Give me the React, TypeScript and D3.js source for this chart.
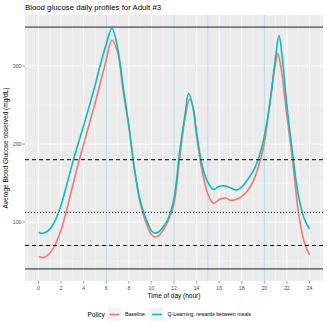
import React from "react";
import * as d3 from "d3";

const baselineHours = [0, 0.4, 1, 1.5, 2, 2.5, 3, 3.5, 4, 4.5, 5, 5.5, 6, 6.5, 7, 7.5, 8, 8.5, 9, 9.5, 10, 10.3, 10.6, 11, 11.5, 12, 12.5, 13, 13.4, 13.7, 14, 14.5, 15, 15.5, 16, 16.6, 17, 17.5, 18, 18.5, 19, 19.5, 20, 20.5, 21, 21.2, 21.5, 22, 22.5, 23, 23.5, 24];
const baselineValues = [56, 54.5, 60, 72, 90, 116, 145, 174, 200, 226, 252, 280, 308, 333.5, 318, 268, 222, 168, 125, 100, 84, 81, 82, 89, 102, 124, 182, 235, 258, 246, 210, 165, 136, 124, 129, 131, 128, 129, 133, 140, 152, 172, 201, 255, 304, 316, 296, 236, 180, 115, 76, 58];

const qlHours = [0, 0.3, 1, 1.5, 2, 2.5, 3, 3.5, 4, 4.5, 5, 5.5, 6, 6.5, 7, 7.5, 8, 8.5, 9, 9.5, 10, 10.3, 10.6, 11, 11.5, 12, 12.5, 13, 13.3, 13.7, 14, 14.5, 15, 15.5, 16, 16.5, 17, 17.5, 18, 18.5, 19, 19.5, 20, 20.5, 21, 21.3, 21.6, 22, 22.5, 23, 23.5, 24];
const qlValues = [87, 85.5, 91, 103, 122, 148, 175, 200, 224, 249, 275, 303, 328, 348.5, 324, 273, 224, 167, 128, 105, 89, 86, 87, 93, 105, 130, 190, 240, 265, 246, 216, 172, 151, 142, 146, 146.5, 144, 141, 145, 154, 165, 182, 210, 252, 312, 339, 310, 250, 188, 136, 106, 91];

const xTicks = [0, 2, 4, 6, 8, 10, 12, 14, 16, 18, 20, 22, 24];
const yTicks = [100, 200, 300];
const mealHours = [6, 12, 15, 20];
const solidLevels = [40, 350];
const dashedLevels = [70, 180];
const dottedLevels = [112.5];

const policies = ["Baseline", "Q-Learning, rewards between meals"];
const colors = ["#F8766D", "#00BFC4"];

const W = 327;
const H = 327;
const margin = { top: 15, right: 4, bottom: 46, left: 25 };
const font = "'Liberation Sans', Arial, sans-serif";

export default function App() {
  const pw = W - margin.left - margin.right;
  const ph = H - margin.top - margin.bottom;

  const x = d3.scaleLinear().domain([-1.2, 25.2]).range([0, pw]);
  const y = d3.scaleLinear().domain([24.5, 365.5]).range([ph, 0]);

  const line = d3
    .line<[number, number]>()
    .x((d) => x(d[0]))
    .y((d) => y(d[1]))
    .curve(d3.curveCatmullRom.alpha(0.5));

  const series = [
    baselineHours.map((h, i) => [h, baselineValues[i]] as [number, number]),
    qlHours.map((h, i) => [h, qlValues[i]] as [number, number]),
  ];

  const minorX = d3.range(-1, 26, 2);
  const minorY = [50, 150, 250, 350];

  return (
    <div style={{ position: "fixed", left: 0, top: 0 }}>
      <svg width={W} height={H} style={{ display: "block", background: "#fff" }} fontFamily={font}>
        <text x={margin.left} y={10} fontSize={7.8} fill="#000">
          Blood glucose daily profiles for Adult #3
        </text>
        <g transform={`translate(${margin.left},${margin.top})`}>
          <rect width={pw} height={ph} fill="#EBEBEB" />
          {minorX.map((t) => (
            <line key={"mx" + t} x1={x(t)} x2={x(t)} y1={0} y2={ph} stroke="#fff" strokeWidth={0.5} />
          ))}
          {minorY.map((t) => (
            <line key={"my" + t} x1={0} x2={pw} y1={y(t)} y2={y(t)} stroke="#fff" strokeWidth={0.5} />
          ))}
          {xTicks.map((t) => (
            <line key={"gx" + t} x1={x(t)} x2={x(t)} y1={0} y2={ph} stroke="#fff" strokeWidth={1} />
          ))}
          {yTicks.map((t) => (
            <line key={"gy" + t} x1={0} x2={pw} y1={y(t)} y2={y(t)} stroke="#fff" strokeWidth={1} />
          ))}
          {mealHours.map((t) => (
            <line key={"m" + t} x1={x(t)} x2={x(t)} y1={0} y2={ph} stroke="#ADD8E6" strokeWidth={1} />
          ))}
          {series.map((s, i) => (
            <path key={i} d={line(s) || ""} fill="none" stroke={colors[i]} strokeWidth={1.6} />
          ))}
          {solidLevels.map((t) => (
            <line key={"s" + t} x1={0} x2={pw} y1={y(t)} y2={y(t)} stroke="#222" strokeWidth={1} />
          ))}
          {dashedLevels.map((t) => (
            <line key={"d" + t} x1={0} x2={pw} y1={y(t)} y2={y(t)} stroke="#000" strokeWidth={1} strokeDasharray="4,3" />
          ))}
          {dottedLevels.map((t) => (
            <line key={"o" + t} x1={0} x2={pw} y1={y(t)} y2={y(t)} stroke="#000" strokeWidth={1} strokeDasharray="1,2" />
          ))}
          {/* axes */}
          {xTicks.map((t) => (
            <g key={"tx" + t} transform={`translate(${x(t)},${ph})`}>
              <line y2={2.5} stroke="#333" strokeWidth={0.5} />
              <text y={8.5} textAnchor="middle" fontSize={5.2} fill="#4D4D4D">
                {t}
              </text>
            </g>
          ))}
          {yTicks.map((t) => (
            <g key={"ty" + t} transform={`translate(0,${y(t)})`}>
              <line x2={-2.5} stroke="#333" strokeWidth={0.5} />
              <text x={-3.5} dy="0.35em" textAnchor="end" fontSize={5.2} fill="#4D4D4D">
                {t}
              </text>
            </g>
          ))}
          <text x={pw / 2} y={ph + 16.5} textAnchor="middle" fontSize={6.5} fill="#000">
            Time of day (hour)
          </text>
          <text
            transform={`translate(${-17},${ph / 2}) rotate(-90)`}
            textAnchor="middle"
            fontSize={6.5}
            fill="#000"
          >
            Average Blood Glucose observed (mg/dL)
          </text>
        </g>
        {/* legend */}
        <g transform="translate(0,314.5)">
          <text x={87.5} dy="0.35em" fontSize={6.5} fill="#000">
            Policy
          </text>
          {policies.map((p, i) => {
            const kx = i === 0 ? 108 : 150.5;
            return (
              <g key={p} transform={`translate(${kx},0)`}>
                <rect x={0} y={-6.5} width={13} height={13} fill="#F2F2F2" />
                <line x1={1.5} x2={11.5} stroke={colors[i]} strokeWidth={1.6} />
                <text x={17} dy="0.35em" fontSize={5.2} fill="#000">
                  {p}
                </text>
              </g>
            );
          })}
        </g>
      </svg>
    </div>
  );
}
